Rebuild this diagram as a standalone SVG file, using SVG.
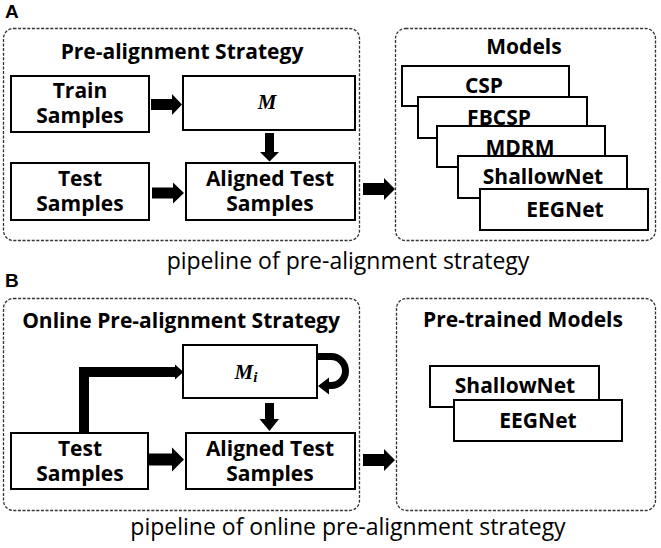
<svg xmlns="http://www.w3.org/2000/svg" width="661" height="548" viewBox="0 0 661 548">
<style>
  .bg { fill: #ffffff; }
  .panel { fill: none; stroke: #333; stroke-width: 1.3; stroke-dasharray: 3 1.6; }
  .box { fill: #fff; stroke: #000; stroke-width: 2; }
  .t { font-family: "Open Sans", "Liberation Sans", sans-serif; font-weight: bold; font-size: 21px; fill: #000; text-anchor: middle; }
  .cap { font-family: "Open Sans", "Liberation Sans", sans-serif; font-size: 23px; fill: #000; text-anchor: middle; }
  .lbl { font-family: "Liberation Sans", "Open Sans", sans-serif; font-weight: bold; font-size: 19px; fill: #000; }
  .m { font-family: "Liberation Serif", "DejaVu Serif", serif; font-weight: bold; font-style: italic; font-size: 21px; fill: #000; text-anchor: middle; }
  .arr { fill: #000; stroke: none; }
</style>
<rect class="bg" x="0" y="0" width="661" height="548"/>

<!-- Panel labels and captions -->
<text class="lbl" x="5" y="18">A</text>
<text class="lbl" x="5" y="287">B</text>
<text class="cap" x="348" y="269">pipeline of pre-alignment strategy</text>
<text class="cap" x="348" y="535">pipeline of online pre-alignment strategy</text>

<!-- Panel A -->
<g id="panelA-strategy">
  <rect class="panel" x="3.5" y="28.5" width="356" height="212" rx="10"/>
  <text class="t" x="182" y="59">Pre-alignment Strategy</text>
</g>
<g id="A-train">
  <rect class="box" x="11" y="76" width="138" height="56"/>
  <text class="t" x="80" y="98">Train</text>
  <text class="t" x="80" y="123">Samples</text>
</g>
<g id="A-M">
  <rect class="box" x="183" y="76" width="172" height="54"/>
  <text class="m" x="267" y="109">M</text>
</g>
<g id="A-test">
  <rect class="box" x="11" y="163" width="138" height="57"/>
  <text class="t" x="80" y="186">Test</text>
  <text class="t" x="80" y="211">Samples</text>
</g>
<g id="A-aligned">
  <rect class="box" x="186" y="163" width="169" height="57"/>
  <text class="t" x="270" y="186">Aligned Test</text>
  <text class="t" x="270" y="211">Samples</text>
</g>
<g id="panelA-models">
  <rect class="panel" x="395.5" y="28.5" width="260" height="212" rx="10"/>
  <text class="t" x="524" y="54">Models</text>
</g>
<g id="A-csp">
  <rect class="box" x="402" y="66" width="167" height="40"/>
  <text class="t" x="484" y="93">CSP</text>
</g>
<g id="A-fbcsp">
  <rect class="box" x="418" y="97" width="169" height="41"/>
  <text class="t" x="499" y="125">FBCSP</text>
</g>
<g id="A-mdrm">
  <rect class="box" x="437" y="126" width="168" height="41"/>
  <text class="t" x="520" y="155">MDRM</text>
</g>
<g id="A-shallow">
  <rect class="box" x="458" y="156" width="169" height="42"/>
  <text class="t" x="543" y="184">ShallowNet</text>
</g>
<g id="A-eegnet">
  <rect class="box" x="480" y="189" width="168" height="41"/>
  <text class="t" x="565" y="217">EEGNet</text>
</g>

<!-- Panel B -->
<g id="panelB-strategy">
  <rect class="panel" x="3.5" y="298.5" width="356" height="212" rx="10"/>
  <text class="t" x="181" y="328">Online Pre-alignment Strategy</text>
</g>
<g id="B-Mi">
  <rect class="box" x="183" y="345" width="134" height="53"/>
  <text class="m" x="246" y="379">M<tspan font-size="15" dy="3">i</tspan></text>
</g>
<g id="B-test">
  <rect class="box" x="11" y="433" width="137" height="56"/>
  <text class="t" x="80" y="456">Test</text>
  <text class="t" x="80" y="481">Samples</text>
</g>
<g id="B-aligned">
  <rect class="box" x="186" y="433" width="169" height="56"/>
  <text class="t" x="270" y="456">Aligned Test</text>
  <text class="t" x="270" y="481">Samples</text>
</g>
<g id="panelB-models">
  <rect class="panel" x="396.5" y="298.5" width="259" height="212" rx="10"/>
  <text class="t" x="523" y="327">Pre-trained Models</text>
</g>
<g id="B-shallow">
  <rect class="box" x="430" y="366" width="169" height="41"/>
  <text class="t" x="515" y="393">ShallowNet</text>
</g>
<g id="B-eegnet">
  <rect class="box" x="454" y="400" width="168" height="41"/>
  <text class="t" x="538" y="428">EEGNet</text>
</g>

<!-- Connectors -->
<g id="connectors">
  <path class="arr" d="M151,99 H172 V94 L182,104.5 L172,115 V110 H151 Z"/>
  <path class="arr" d="M152,187.5 H173 V182.5 L184,193 L173,203.5 V198.5 H152 Z"/>
  <path class="arr" d="M265,133 V152 H260 L269.5,161.5 L279,152 H274 V133 Z"/>
  <path class="arr" d="M363,183 H384 V178 L395,189 L384,200 V195 H363 Z"/>
  <path class="arr" d="M149,453.5 H172 V447.5 L184,459.5 L172,471.5 V465.5 H149 Z"/>
  <path class="arr" d="M265,403 V419 H259.5 L269.5,431 L279,419 H274 V403 Z"/>
  <path class="arr" d="M363,454 H384 V449 L395,460 L384,471 V466 H363 Z"/>
  <path class="arr" d="M79,433 V367 H175 V364.5 L183.5,372 L175,379.5 V377 H89 V433 Z"/>
  <path d="M317,356.5 H331 A14.5,14.5 0 0 1 331,385.5 H327" fill="none" stroke="#000" stroke-width="7"/>
  <path class="arr" d="M318,386 L329,377.5 V394.5 Z"/>
</g>
</svg>
